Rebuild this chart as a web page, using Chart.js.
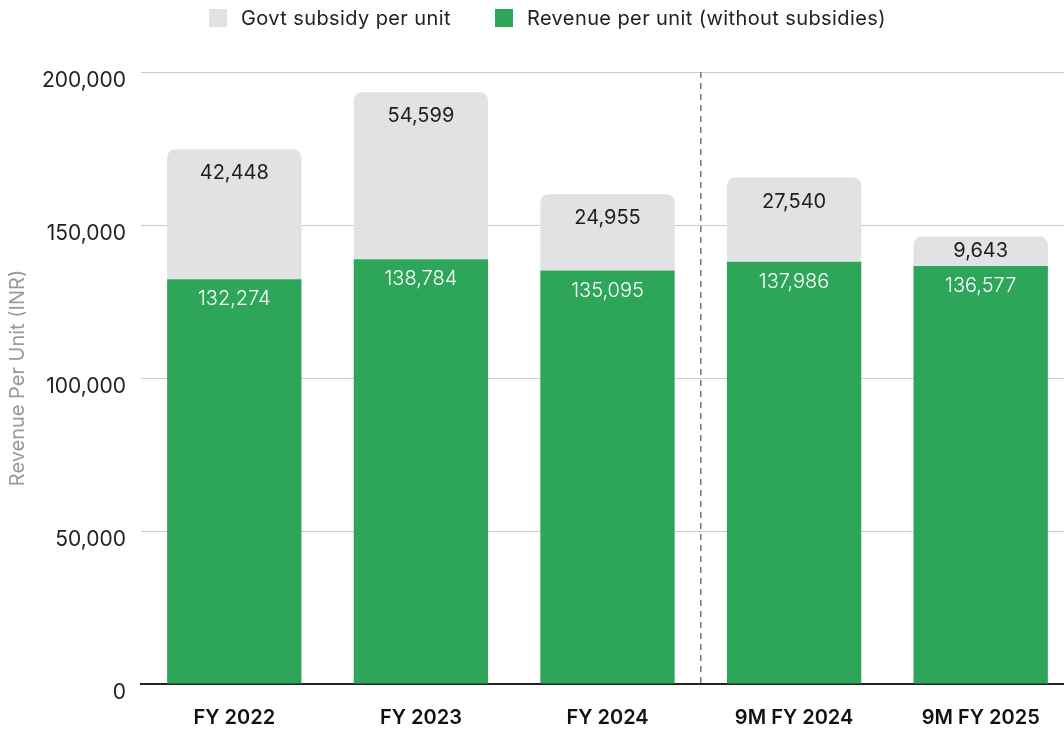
<!DOCTYPE html>
<html>
<head>
<meta charset="utf-8">
<script src="https://cdn.jsdelivr.net/npm/chart.js@4.4.1/dist/chart.umd.min.js"></script>
<style>
  html, body { margin: 0; padding: 0; background: #fff; overflow: hidden; }
  .wrap { position: relative; width: 1075px; height: 731px; }
  .legend {
    position: absolute; top: 6px; left: 209px;
    display: flex; align-items: center;
    font-family: Inter, "Noto Sans", sans-serif; font-size: 20px; letter-spacing: 0.4px; color: #222;
  }
  .legend span.box { display: inline-block; width: 18px; height: 18px; margin-right: 14px; }
  .legend .item { display: flex; align-items: center; margin-right: 44px; }
</style>
</head>
<body>
<div class="wrap">
  <canvas id="revenueChart" width="1075" height="731"></canvas>
  <div class="legend">
    <div class="item"><span class="box" style="background:#e1e2e4"></span>Govt subsidy per unit</div>
    <div class="item"><span class="box" style="background:#2ea65a"></span>Revenue per unit (without subsidies)</div>
  </div>
</div>
<script>
// Chart data
const categories = ['FY 2022', 'FY 2023', 'FY 2024', '9M FY 2024', '9M FY 2025'];
const revenueWithoutSubsidy = [132274, 138784, 135095, 137986, 136577];
const govtSubsidy = [42448, 54599, 24955, 27540, 9643];
const yTicks = [0, 50000, 100000, 150000, 200000];

const fontFamily = 'Inter, "Noto Sans", sans-serif';
const fmt = v => v.toLocaleString('en-US');

// Value labels inside the bars
const barLabels = {
  id: 'barLabels',
  afterDatasetsDraw(chart) {
    const ctx = chart.ctx;
    ctx.save();
    ctx.textAlign = 'center';
    ctx.textBaseline = 'middle';
    chart.data.datasets.forEach((ds, i) => {
      const meta = chart.getDatasetMeta(i);
      meta.data.forEach((bar, j) => {
        const h = bar.base - bar.y;
        if (i === 0) {
          ctx.fillStyle = '#ffffff';
          ctx.font = '300 20px ' + fontFamily;
          ctx.fillText(fmt(ds.data[j]), bar.x, bar.y + 20);
        } else {
          ctx.fillStyle = '#1e1e1e';
          ctx.font = '400 20px ' + fontFamily;
          ctx.fillText(fmt(ds.data[j]), bar.x, bar.y + Math.min(24, h / 2));
        }
      });
    });
    ctx.restore();
  }
};

// Dashed separator between full years and 9M periods
const periodDivider = {
  id: 'periodDivider',
  beforeDatasetsDraw(chart) {
    const { ctx, chartArea, scales } = chart;
    const x = (scales.x.getPixelForValue(2) + scales.x.getPixelForValue(3)) / 2;
    ctx.save();
    ctx.strokeStyle = '#777';
    ctx.lineWidth = 1.5;
    ctx.setLineDash([6, 5]);
    ctx.beginPath();
    ctx.moveTo(x, chartArea.top);
    ctx.lineTo(x, chartArea.bottom);
    ctx.stroke();
    ctx.restore();
  }
};

new Chart(document.getElementById('revenueChart').getContext('2d'), {
  type: 'bar',
  data: {
    labels: categories,
    datasets: [
      {
        label: 'Revenue per unit (without subsidies)',
        data: revenueWithoutSubsidy,
        backgroundColor: '#2ea65a',
        borderWidth: 0,
        barPercentage: 0.72,
        categoryPercentage: 1
      },
      {
        label: 'Govt subsidy per unit',
        data: govtSubsidy,
        backgroundColor: '#e1e2e4',
        borderWidth: 0,
        borderSkipped: 'bottom',
        borderRadius: { topLeft: 8, topRight: 8, bottomLeft: 0, bottomRight: 0 },
        barPercentage: 0.72,
        categoryPercentage: 1
      }
    ]
  },
  options: {
    responsive: false,
    animation: false,
    layout: { padding: { top: 72, right: 1, bottom: 2, left: 6 } },
    plugins: {
      legend: { display: false },
      tooltip: { enabled: false }
    },
    scales: {
      x: {
        stacked: true,
        grid: { display: false, drawTicks: false },
        border: { display: true, color: '#222', width: 2 },
        afterFit: scale => { scale.height = 45; },
        ticks: {
          color: '#111',
          padding: 22,
          font: { family: fontFamily, size: 20, weight: '600' }
        }
      },
      y: {
        stacked: true,
        min: 0,
        max: 200000,
        afterBuildTicks: scale => { scale.ticks = yTicks.map(v => ({ value: v })); },
        afterFit: scale => { scale.width = 135; },
        grid: { color: '#cccccc', lineWidth: 1, drawTicks: false },
        border: { display: false },
        ticks: {
          color: '#222',
          padding: 15,
          labelOffset: 9,
          font: { family: fontFamily, size: 21 },
          callback: v => fmt(v)
        },
        title: {
          display: true,
          text: 'Revenue Per Unit (INR)',
          color: '#9a9a9a',
          padding: { top: 0, bottom: 10 },
          font: { family: fontFamily, size: 20 }
        }
      }
    }
  },
  plugins: [barLabels, periodDivider]
});
</script>
</body>
</html>
